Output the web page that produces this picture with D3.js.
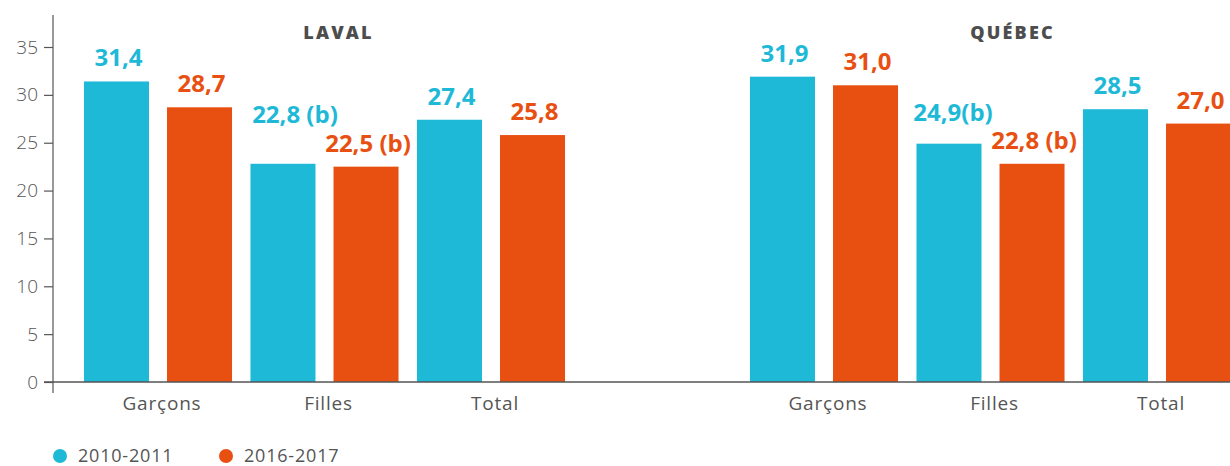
<!DOCTYPE html>
<html>
<head>
<meta charset="utf-8">
<script src="https://cdn.jsdelivr.net/npm/d3@7"></script>
<style>
  html, body { margin: 0; padding: 0; background: #fff; }
  svg { display: block; font-family: "Open Sans", "Noto Sans", sans-serif; }
</style>
</head>
<body>
<svg id="chart" width="1230" height="466"></svg>
<script>
// Data
const regions = ["LAVAL", "QUÉBEC"];
const categories = ["Garçons", "Filles", "Total"];
const seriesNames = ["2010-2011", "2016-2017"];
const valuesEarly = [[31.4, 22.8, 27.4], [31.9, 24.9, 28.5]];   // 2010-2011
const valuesLate  = [[28.7, 22.5, 25.8], [31.0, 22.8, 27.0]];   // 2016-2017
const labelsEarly = [["31,4", "22,8 (b)", "27,4"], ["31,9", "24,9(b)", "28,5"]];
const labelsLate  = [["28,7", "22,5 (b)", "25,8"], ["31,0", "22,8 (b)", "27,0"]];
const yTicks = [0, 5, 10, 15, 20, 25, 30, 35];

const colors = ["#1fb9d8", "#e85012"];
const axisColor = "#555";

const svg = d3.select("#chart");

// One slot per category, with an empty slot separating the two regions
const slots = [];
regions.forEach((r, ri) => {
  if (ri > 0) slots.push("sep");
  categories.forEach(c => slots.push(r + "|" + c));
});

const x = d3.scaleBand().domain(slots).range([74.75, 1240.25]).padding(0);
const xInner = d3.scaleBand().domain(seriesNames).range([0, x.bandwidth()])
  .paddingInner(0.217).paddingOuter(0.111);
const y = d3.scaleLinear().domain([0, 35]).range([382, 47]);

// Bars
const bars = [];
regions.forEach((r, ri) => {
  categories.forEach((c, ci) => {
    [valuesEarly, valuesLate].forEach((vals, si) => {
      bars.push({
        key: r + "|" + c,
        series: seriesNames[si],
        si, ri, ci,
        value: vals[ri][ci],
        label: (si === 0 ? labelsEarly : labelsLate)[ri][ci]
      });
    });
  });
});

svg.append("g").selectAll("rect").data(bars).join("rect")
  .attr("x", d => x(d.key) + xInner(d.series))
  .attr("width", xInner.bandwidth())
  .attr("y", d => y(d.value))
  .attr("height", d => y(0) - y(d.value))
  .attr("fill", d => colors[d.si]);

// Value labels; the blue "(b)" labels are lifted a bit further to keep clear of neighbours
const extraLift = d => (d.si === 0 && d.ci === 1) ? (d.ri === 0 ? 26 : 8) : 0;
const extraShift = d => (d.si === 0 && d.ci === 1) ? (d.ri === 0 ? 12 : 4) : 2;
svg.append("g").selectAll("text").data(bars).join("text")
  .attr("x", d => x(d.key) + xInner(d.series) + xInner.bandwidth() / 2 + extraShift(d))
  .attr("y", d => y(d.value) - 15 - extraLift(d))
  .attr("text-anchor", "middle")
  .attr("font-size", 24)
  .attr("font-weight", 700)
  .attr("fill", d => colors[d.si])
  .text(d => d.label);

// Region titles
svg.append("g").selectAll("text").data(regions).join("text")
  .attr("x", (r, i) => x(r + "|Filles") + x.bandwidth() / 2 + (i === 0 ? 14 : 22))
  .attr("y", 39)
  .attr("text-anchor", "middle")
  .attr("font-size", 18)
  .attr("font-weight", 800)
  .attr("letter-spacing", 2.2)
  .attr("fill", "#4d4d4d")
  .text(d => d);

// Y axis
const yAxis = svg.append("g").attr("transform", "translate(53,0)")
  .call(d3.axisLeft(y).tickValues(yTicks).tickSize(9).tickPadding(6).tickSizeOuter(0));
yAxis.select(".domain").remove();
yAxis.selectAll(".tick line").attr("stroke", axisColor).attr("stroke-width", 1.2);
yAxis.selectAll(".tick text")
  .attr("font-size", 19)
  .attr("font-family", "'Open Sans', sans-serif")
  .attr("font-weight", 300)
  .attr("fill", "#555");
svg.append("line")
  .attr("x1", 53).attr("x2", 53)
  .attr("y1", 15).attr("y2", y(0) + 11)
  .attr("stroke", axisColor).attr("stroke-width", 1.2);

// X axis baseline
svg.append("line")
  .attr("x1", 44).attr("x2", 1230)
  .attr("y1", y(0)).attr("y2", y(0))
  .attr("stroke", axisColor).attr("stroke-width", 1.5);

// Category labels
svg.append("g").selectAll("text").data(slots.filter(s => s !== "sep")).join("text")
  .attr("x", s => x(s) + x.bandwidth() / 2 + 4)
  .attr("y", 410)
  .attr("text-anchor", "middle")
  .attr("font-size", 19)
  .attr("letter-spacing", 0.8)
  .attr("fill", "#555")
  .text(s => s.split("|")[1]);

// Legend
const legend = svg.append("g").selectAll("g").data(seriesNames).join("g")
  .attr("transform", (d, i) => `translate(${60 + i * 166},456)`);
legend.append("circle").attr("r", 7).attr("fill", (d, i) => colors[i]);
legend.append("text")
  .attr("x", 18).attr("y", 6)
  .attr("font-size", 18)
  .attr("letter-spacing", 0.8)
  .attr("fill", "#555")
  .text(d => d);
</script>
</body>
</html>
